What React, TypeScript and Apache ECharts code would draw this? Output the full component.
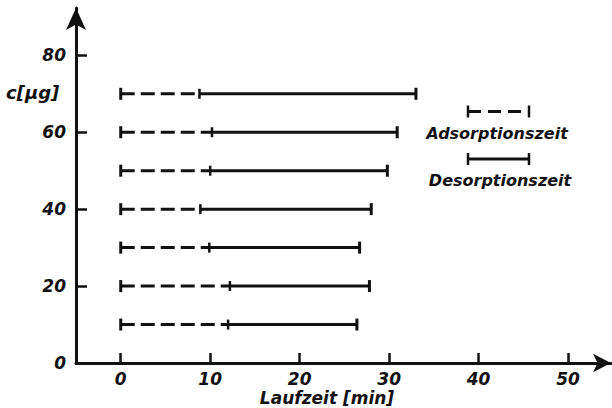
import React, { useEffect, useRef } from "react";
import * as echarts from "echarts";

const concentrations = [10, 20, 30, 40, 50, 60, 70];
const adsorptionEnd = [12.0, 12.2, 9.9, 8.9, 10.0, 10.2, 8.8];
const desorptionEnd = [26.4, 27.8, 26.7, 28.0, 29.8, 30.9, 33.0];
const xTicks = [0, 10, 20, 30, 40, 50];
const yTickMarks = [20, 40, 60, 80];
const yLabels = [0, 20, 40, 60, 80];

const FONT = "DejaVu Sans";
const INK = "#111";

export default function App() {
  const ref = useRef<HTMLDivElement>(null);
  useEffect(() => {
    if (!ref.current) return;
    const chart = echarts.init(ref.current, null, { renderer: "svg" });
    const adsData = concentrations.map((c, i) => [c, 0, adsorptionEnd[i]]);
    const desData = concentrations.map((c, i) => [c, adsorptionEnd[i], desorptionEnd[i]]);
    const labelStyle = {
      fontFamily: FONT,
      fontWeight: "bold" as const,
      fontStyle: "italic" as const,
      fontSize: 17,
      color: INK,
    };
    const cap = (x: number, y: number, h: number, w: number) => ({
      type: "line",
      shape: { x1: x, y1: y - h, x2: x, y2: y + h },
      style: { stroke: INK, lineWidth: w },
    });
    chart.setOption({
      animation: false,
      backgroundColor: "#fff",
      grid: { left: 76, right: 1, top: 8, bottom: 45 },
      xAxis: {
        type: "value",
        min: -5,
        max: 54.8,
        splitLine: { show: false },
        axisLine: {
          onZero: true,
          lineStyle: { color: INK, width: 3 },
          symbol: ["none", "arrow"],
          symbolSize: [14, 18],
        },
        axisTick: {
          show: true,
          inside: true,
          length: 10,
          customValues: xTicks,
          lineStyle: { color: INK, width: 2.5 },
        },
        axisLabel: { ...labelStyle, margin: 7, customValues: xTicks },
      },
      yAxis: {
        type: "value",
        min: 0,
        max: 92.3,
        splitLine: { show: false },
        axisLine: {
          onZero: false,
          lineStyle: { color: INK, width: 3 },
          symbol: ["none", "arrow"],
          symbolSize: [15, 22],
        },
        axisTick: {
          show: true,
          inside: true,
          length: 11,
          customValues: yTickMarks,
          lineStyle: { color: INK, width: 2.5 },
        },
        axisLabel: { ...labelStyle, margin: 10, customValues: yLabels },
      },
      series: [
        {
          type: "custom",
          name: "Adsorptionszeit",
          data: adsData,
          encode: { x: [1, 2], y: 0 },
          renderItem: (params: any, api: any) => {
            const y = api.value(0);
            const p0 = api.coord([api.value(1), y]);
            const p1 = api.coord([api.value(2), y]);
            return {
              type: "group",
              children: [
                {
                  type: "line",
                  shape: { x1: p0[0], y1: p0[1], x2: p1[0], y2: p1[1] },
                  style: { stroke: INK, lineWidth: 3, lineDash: [14, 6] },
                },
                cap(p0[0], p0[1], 6, 3),
              ],
            };
          },
        },
        {
          type: "custom",
          name: "Desorptionszeit",
          data: desData,
          encode: { x: [1, 2], y: 0 },
          renderItem: (params: any, api: any) => {
            const y = api.value(0);
            const p0 = api.coord([api.value(1), y]);
            const p1 = api.coord([api.value(2), y]);
            return {
              type: "group",
              children: [
                {
                  type: "line",
                  shape: { x1: p0[0], y1: p0[1], x2: p1[0], y2: p1[1] },
                  style: { stroke: INK, lineWidth: 3 },
                },
                cap(p0[0], p0[1], 5, 2.5),
                cap(p1[0], p1[1], 6, 3),
              ],
            };
          },
        },
      ],
      graphic: [
        {
          type: "text",
          left: 6,
          top: 83,
          style: { ...labelStyle, fill: INK, text: "c[µg]", fontSize: 18, letterSpacing: 1.5 },
        },
        {
          type: "text",
          x: 327,
          y: 398,
          style: {
            ...labelStyle,
            fill: INK,
            text: "Laufzeit [min]",
            align: "center",
            verticalAlign: "middle",
          },
        },
        // legend: adsorption
        {
          type: "line",
          shape: { x1: 468, y1: 111.5, x2: 529, y2: 111.5 },
          style: { stroke: INK, lineWidth: 3, lineDash: [13, 7] },
        },
        { type: "line", shape: { x1: 468, y1: 105.5, x2: 468, y2: 117.5 }, style: { stroke: INK, lineWidth: 2.5 } },
        { type: "line", shape: { x1: 529, y1: 105.5, x2: 529, y2: 117.5 }, style: { stroke: INK, lineWidth: 2.5 } },
        {
          type: "text",
          x: 497,
          y: 133,
          style: { ...labelStyle, fontSize: 16, fill: INK, text: "Adsorptionszeit", align: "center", verticalAlign: "middle" },
        },
        // legend: desorption
        {
          type: "line",
          shape: { x1: 468, y1: 159, x2: 529, y2: 159 },
          style: { stroke: INK, lineWidth: 3 },
        },
        { type: "line", shape: { x1: 468, y1: 153, x2: 468, y2: 165 }, style: { stroke: INK, lineWidth: 2.5 } },
        { type: "line", shape: { x1: 529, y1: 153, x2: 529, y2: 165 }, style: { stroke: INK, lineWidth: 2.5 } },
        {
          type: "text",
          x: 500,
          y: 180,
          style: { ...labelStyle, fontSize: 16, fill: INK, text: "Desorptionszeit", align: "center", verticalAlign: "middle" },
        },
      ],
    });
    return () => chart.dispose();
  }, []);
  return (
    <div
      ref={ref}
      style={{ position: "fixed", left: 0, top: 0, width: 612, height: 408, background: "#fff" }}
    />
  );
}
